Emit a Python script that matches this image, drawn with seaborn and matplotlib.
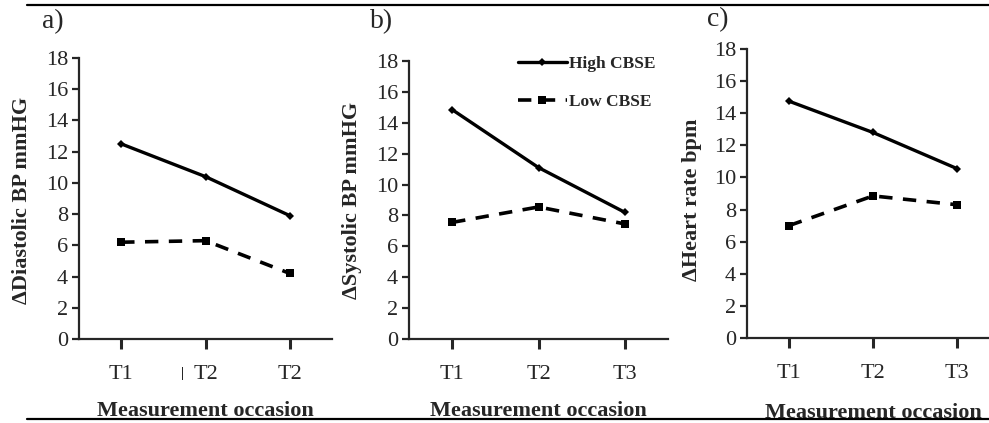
import matplotlib
matplotlib.use("Agg")
import matplotlib.pyplot as plt
import seaborn as sns
from matplotlib.lines import Line2D

# ---- data ----
occasion_idx = [0, 1, 2]
ticks_a = ["T1", "T2", "T2"]
ticks_bc = ["T1", "T2", "T3"]
series_names = ["High CBSE", "Low CBSE"]

diastolic_high = [12.5, 10.4, 7.9]
diastolic_low = [6.2, 6.3, 4.2]
systolic_high = [14.85, 11.1, 8.2]
systolic_low = [7.55, 8.55, 7.45]
heart_high = [14.75, 12.8, 10.55]
heart_low = [7.0, 8.85, 8.3]

ylabels = ["\u0394Diastolic BP mmHG", "\u0394Systolic BP mmHG", "\u0394Heart rate bpm"]
panel_tags = ["a)", "b)", "c)"]
xlabel = "Measurement occasion"

sns.set_style("ticks")
plt.rcParams["font.family"] = ["Liberation Serif", "DejaVu Serif"]

W, H = 989, 423
fig = plt.figure(figsize=(W / 100, H / 100), dpi=100)


def px_axes(left, right, top, bottom):
    return [left / W, 1 - bottom / H, (right - left) / W, (bottom - top) / H]


# axes boxes in pixels: left, right, y(18), y(0)
boxes = [(79, 332, 58, 339), (409, 668, 61, 339), (747, 999, 49, 338)]
data = [(diastolic_high, diastolic_low), (systolic_high, systolic_low), (heart_high, heart_low)]
tick_sets = [ticks_a, ticks_bc, ticks_bc]
tag_pos = [(42, 22), (370, 22), (707, 20)]
ylab_x = [22, 352, 692]
xlab_y = [411, 411, 413]

low_dash = (0, (3.7, 2.9))

axes = []
for i, box in enumerate(boxes):
    ax = fig.add_axes(px_axes(*box))
    high, low = data[i]
    sns.lineplot(x=occasion_idx, y=high, ax=ax, color="black", lw=2.4,
                 marker="D", markersize=4.5, markeredgewidth=0, label=series_names[0])
    sns.lineplot(x=occasion_idx, y=low, ax=ax, color="black", lw=2.6,
                 linestyle=low_dash, marker="s", markersize=5.5, markeredgewidth=0,
                 label=series_names[1])
    ax.set_xlim(-0.5, 2.5)
    ax.set_ylim(0, 18)
    ax.set_yticks(range(0, 19, 2))
    ax.set_xticks(occasion_idx)
    ax.set_xticklabels(tick_sets[i])
    for side in ["top", "right"]:
        ax.spines[side].set_visible(False)
    for side in ["left", "bottom"]:
        ax.spines[side].set_linewidth(1.6)
    ax.tick_params(axis="y", direction="out", length=5, width=1.6, pad=3, labelsize=16)
    ax.tick_params(axis="x", direction="out", length=7, width=2.2, pad=12, labelsize=16)
    ax.set_ylabel(ylabels[i], fontsize=16, fontweight="bold", va="center")
    ax.yaxis.set_label_coords(ylab_x[i] / W, 1 - 200 / H, transform=fig.transFigure)
    ax.set_xlabel(xlabel, fontsize=16, fontweight="bold", va="center")
    cx = (box[0] + box[1]) / 2
    ax.xaxis.set_label_coords(cx / W, 1 - xlab_y[i] / H, transform=fig.transFigure)
    ax.get_legend().remove()
    fig.text(tag_pos[i][0] / W, 1 - tag_pos[i][1] / H, panel_tags[i], fontsize=20,
             ha="left", va="center")
    axes.append(ax)

# stray mark left of the second T2 label in panel a
fig.text(183 / W, 1 - 373 / H, "|", fontsize=10, fontweight="bold", ha="center", va="center")

# legend inside panel b
handles, labels = axes[1].get_legend_handles_labels()
fig.legend(handles, labels, loc="upper left", bbox_to_anchor=(518 / W, 1 - 56 / H),
           frameon=False, prop={"weight": "bold", "size": 12.5}, handlelength=2.8,
           handletextpad=0.15, labelspacing=1.25, borderpad=0, borderaxespad=0)

# horizontal rules at top and bottom of the figure
fig.add_artist(Line2D([27 / W, 1], [1 - 5 / H, 1 - 5 / H], color="black", lw=1.6,
                      transform=fig.transFigure))
fig.add_artist(Line2D([27 / W, 1], [1 - 419 / H, 1 - 419 / H], color="black", lw=1.6,
                      transform=fig.transFigure))

fig.savefig("out.png", dpi=100)
